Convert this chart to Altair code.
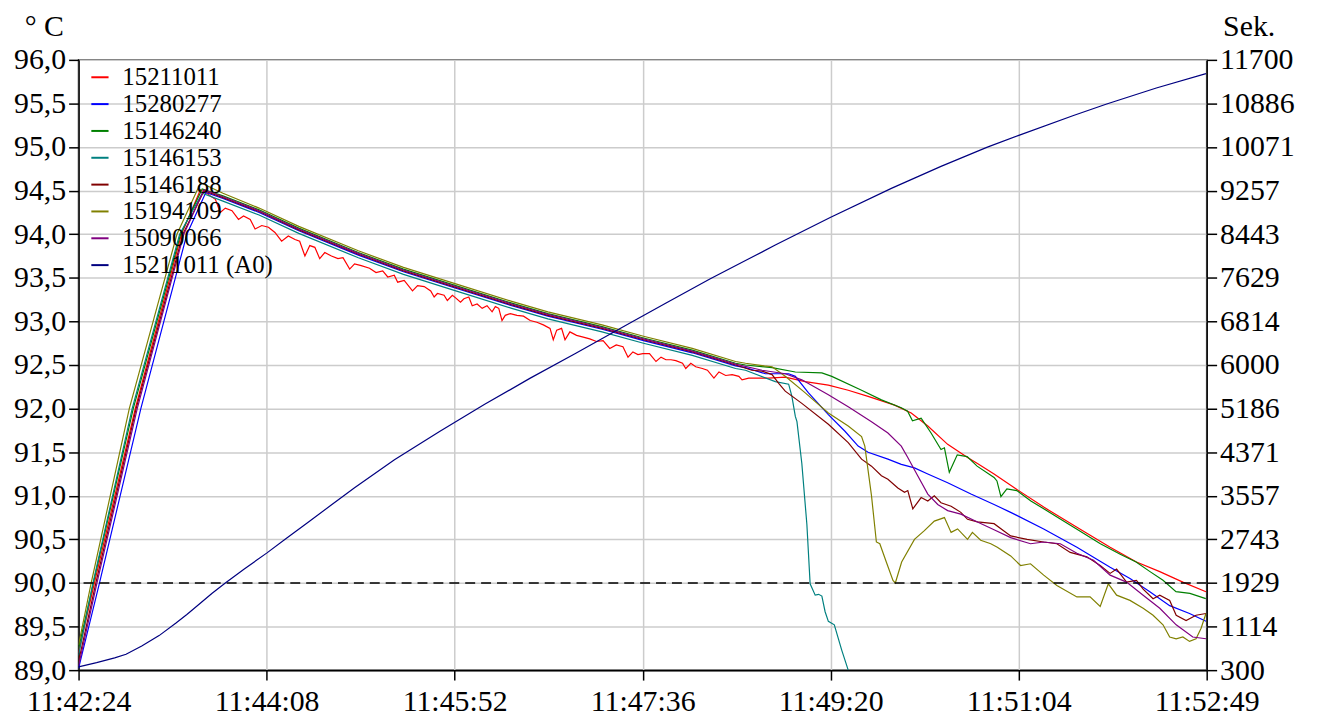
import altair as alt
import pandas as pd

FONT = "Liberation Serif"

SERIES = ["15211011", "15280277", "15146240", "15146153", "15146188",
          "15194109", "15090066", "15211011 (A0)"]
COLORS = ["#ff0000", "#0000ff", "#008000", "#008080", "#800000",
          "#808000", "#800080", "#000080"]

X_TICK_SECONDS = [0, 104.1667, 208.3333, 312.5, 416.6667, 520.8333, 625]
X_TICK_LABELS = ["11:42:24", "11:44:08", "11:45:52", "11:47:36",
                 "11:49:20", "11:51:04", "11:52:49"]
LEFT_TICKS = [89.0, 89.5, 90.0, 90.5, 91.0, 91.5, 92.0, 92.5, 93.0, 93.5,
              94.0, 94.5, 95.0, 95.5, 96.0]
RIGHT_TICKS = [300, 1114.2857, 1928.5714, 2742.8571, 3557.1429, 4371.4286,
               5185.7143, 6000, 6814.2857, 7628.5714, 8442.8571, 9257.1429,
               10071.4286, 10885.7143, 11700]
LIMIT_LINE = [90.0]

# 15211011 (red)
red_t = [0, 8.8, 31.4, 57.0, 67.5, 70.3, 73.0, 75.8, 78.5, 81.3, 85.0, 88.6,
         91.4, 95.1, 97.8, 101.5, 105.2, 108.8, 112.5, 116.2, 119.9, 122.5,
         125.4, 128.1, 130.9, 133.6, 136.4, 140.1, 143.7, 146.5, 150.2, 152.9,
         156.6, 161.2, 164.8, 168.5, 171.3, 174.9, 176.8, 180.4, 185.0, 187.8,
         191.5, 195.1, 197.0, 198.8, 202.5, 204.3, 207.1, 208.9, 211.6, 213.5,
         216.2, 218.1, 220.8, 223.6, 226.3, 229.1, 230.9, 232.8, 234.6, 236.4,
         239.2, 242.9, 246.5, 250.2, 253.9, 257.5, 261.2, 263.0, 264.9, 267.6,
         269.5, 272.2, 275.9, 279.6, 283.2, 286.9, 290.6, 294.3, 297.9, 301.6,
         304.4, 307.1, 309.9, 312.6, 316.3, 319.9, 322.7, 325.4, 328.2, 330.9,
         334.6, 336.4, 339.2, 341.9, 345.6, 348.4, 352.0, 354.8, 358.5, 362.1,
         365.8, 367.6, 371.3, 382.3, 391.5, 402.6, 415.4, 426.4, 437.4, 452.1,
         461.3, 470.5, 481.5, 492.5, 498.0, 507.2, 516.4, 534.7, 553.1, 571.5,
         586.1, 599.0, 611.8, 624.6]
red_v = [89.20, 90.00, 92.00, 94.00, 94.51, 94.48, 94.44, 94.40, 94.25, 94.30,
         94.27, 94.17, 94.21, 94.17, 94.06, 94.10, 94.08, 94.02, 93.92, 93.98,
         93.94, 93.92, 93.75, 93.87, 93.85, 93.72, 93.79, 93.75, 93.72, 93.73,
         93.60, 93.66, 93.64, 93.61, 93.56, 93.58, 93.51, 93.53, 93.45, 93.47,
         93.35, 93.41, 93.40, 93.35, 93.28, 93.32, 93.30, 93.24, 93.30, 93.27,
         93.22, 93.26, 93.28, 93.18, 93.20, 93.15, 93.18, 93.11, 93.17, 93.15,
         93.01, 93.07, 93.09, 93.07, 93.06, 93.01, 92.99, 92.96, 92.92, 92.79,
         92.90, 92.92, 92.79, 92.88, 92.84, 92.82, 92.80, 92.77, 92.78, 92.69,
         92.73, 92.71, 92.59, 92.65, 92.62, 92.63, 92.63, 92.54, 92.59, 92.56,
         92.56, 92.55, 92.52, 92.46, 92.52, 92.48, 92.46, 92.44, 92.35, 92.42,
         92.38, 92.39, 92.37, 92.33, 92.35, 92.35, 92.36, 92.31, 92.27, 92.21,
         92.14, 92.04, 91.95, 91.80, 91.59, 91.44, 91.37, 91.25, 91.12, 90.87,
         90.64, 90.41, 90.24, 90.13, 90.01, 89.90]

# 15280277 (blue)
blue_t = [0, 11.6, 34.5, 60.0, 70.5, 80, 100, 122, 155, 180, 209, 240, 260,
          290, 313, 340, 364, 369.5, 380.5, 393.4, 397.1, 404.4, 415.4, 424.6,
          431.9, 437.4, 448.4, 455.8, 463.1, 470.5, 481.5, 494.4, 507.2, 516.4,
          534.7, 553.1, 571.5, 582.5, 593.5, 604.5, 615.5, 624.6]
blue_v = [89.02, 90.00, 92.00, 94.00, 94.48, 94.41, 94.25, 94.04, 93.76,
          93.57, 93.38, 93.18, 93.06, 92.91, 92.78, 92.64, 92.49, 92.47, 92.40,
          92.40, 92.37, 92.18, 91.93, 91.74, 91.57, 91.50, 91.42, 91.36, 91.32,
          91.25, 91.15, 91.02, 90.90, 90.81, 90.62, 90.41, 90.18, 90.05, 89.90,
          89.74, 89.65, 89.56]

# 15146240 (green)
green_t = [0, 8.2, 30.3, 56.5, 68.5, 80, 100, 122, 155, 180, 209, 240, 260,
           290, 313, 340, 364, 369.5, 384.2, 397.1, 411.8, 417.3, 433.8, 444.8,
           455.8, 459.3, 462.0, 466.8, 472.3, 477.8, 479.7, 482.4, 486.8, 492.3,
           497.8, 507.2, 508.8, 511.0, 514.3, 519.8, 527.6, 534.7, 544.1, 552.9,
           566.1, 577.1, 585.9, 593.6, 600.8, 608.0, 615.7, 624.5]
green_v = [89.25, 90.00, 92.00, 94.00, 94.52, 94.44, 94.28, 94.07, 93.79,
           93.60, 93.41, 93.21, 93.09, 92.94, 92.81, 92.67, 92.52, 92.50, 92.47,
           92.42, 92.41, 92.37, 92.21, 92.10, 92.01, 91.97, 91.86, 91.89, 91.72,
           91.53, 91.55, 91.27, 91.47, 91.45, 91.34, 91.21, 91.17, 90.99, 91.08,
           91.06, 90.94, 90.85, 90.73, 90.62, 90.45, 90.33, 90.24, 90.13, 90.03,
           89.90, 89.88, 89.82]

# 15146153 (teal)
teal_t = [0, 8.0, 29.7, 56.0, 68.5, 80, 100, 122, 155, 180, 209, 240, 260,
          290, 313, 340, 364, 369.5, 386.0, 393.4, 395.2, 397.1, 398.0, 400.7,
          403.5, 405.3, 408.1, 410.0, 411.8, 413.6, 415.4, 418.7, 422.8, 426.4]
teal_v = [89.17, 90.00, 92.00, 94.00, 94.47, 94.38, 94.22, 94.01, 93.73,
          93.54, 93.35, 93.15, 93.03, 92.88, 92.75, 92.61, 92.46, 92.44, 92.31,
          92.28, 92.14, 91.91, 91.85, 91.37, 90.67, 89.99, 89.86, 89.87, 89.85,
          89.67, 89.56, 89.52, 89.23, 89.00]

# 15146188 (maroon)
maroon_t = [0, 9.6, 31.9, 57.8, 69.5, 80, 100, 122, 155, 180, 209, 240, 260,
            290, 313, 340, 364, 373.0, 378.7, 384.2, 387.9, 391.5, 400.7, 415.4,
            426.4, 433.8, 439.3, 444.8, 448.4, 453.9, 457.6, 459.4, 462.2, 466.8,
            470.5, 474.1, 477.8, 483.4, 488.8, 492.5, 498.0, 507.2, 516.4, 525.5,
            534.7, 542.0, 549.4, 558.6, 566.0, 571.5, 575.1, 580.6, 586.1, 589.8,
            595.3, 599.0, 604.5, 608.1, 613.6, 619.1, 624.6]
maroon_v = [89.10, 90.00, 92.00, 94.00, 94.50, 94.42, 94.26, 94.05, 93.77,
            93.58, 93.39, 93.19, 93.07, 92.92, 92.79, 92.65, 92.50, 92.44, 92.43,
            92.39, 92.29, 92.20, 92.06, 91.82, 91.61, 91.42, 91.34, 91.23, 91.19,
            91.09, 91.04, 91.06, 90.85, 90.98, 90.94, 91.00, 90.92, 90.88, 90.81,
            90.73, 90.70, 90.68, 90.54, 90.50, 90.47, 90.45, 90.35, 90.30, 90.20,
            90.11, 90.16, 90.01, 90.03, 89.93, 89.82, 89.86, 89.80, 89.63, 89.57,
            89.63, 89.65]

# 15194109 (olive)
olive_t = [0, 7.0, 28.1, 54.5, 67.6, 80, 100, 122, 155, 180, 209, 240, 260,
           290, 313, 340, 364, 369.5, 380.0, 384.2, 391.5, 402.6, 415.4, 426.4,
           433.8, 435.6, 439.3, 442.0, 443.9, 447.5, 451.2, 452.5, 456.0, 463.1,
           468.6, 474.1, 479.7, 483.4, 487.0, 492.5, 495.2, 499.8, 505.4, 509.0,
           516.4, 521.9, 527.4, 534.7, 542.0, 553.1, 560.4, 566.0, 570.5, 575.1,
           582.5, 589.8, 595.3, 600.8, 604.5, 608.1, 611.8, 615.5, 619.1, 621.9,
           624.6]
olive_v = [89.29, 90.00, 92.00, 94.00, 94.59, 94.47, 94.30, 94.09, 93.81,
           93.62, 93.43, 93.23, 93.11, 92.96, 92.83, 92.69, 92.54, 92.52, 92.49,
           92.48, 92.37, 92.18, 91.95, 91.80, 91.68, 91.57, 91.00, 90.47, 90.45,
           90.24, 90.03, 90.00, 90.24, 90.50, 90.60, 90.71, 90.75, 90.58, 90.62,
           90.50, 90.58, 90.49, 90.45, 90.41, 90.31, 90.20, 90.22, 90.09, 89.97,
           89.84, 89.84, 89.73, 89.99, 89.86, 89.80, 89.71, 89.63, 89.52, 89.38,
           89.36, 89.38, 89.33, 89.36, 89.48, 89.65]

# 15090066 (purple)
purple_t = [0, 10.2, 32.5, 58.3, 69.5, 80, 100, 122, 155, 180, 209, 240, 260,
            290, 313, 340, 364, 378.7, 391.5, 400.7, 415.4, 426.4, 439.3, 448.4,
            455.8, 459.4, 464.9, 470.5, 476.0, 481.5, 488.8, 498.0, 507.2, 516.4,
            527.4, 534.7, 543.9, 553.1, 562.3, 571.5, 580.6, 589.8, 599.0, 608.1,
            617.3, 624.6]
purple_v = [89.05, 90.00, 92.00, 94.00, 94.51, 94.43, 94.27, 94.06, 93.78,
            93.59, 93.40, 93.20, 93.08, 92.93, 92.80, 92.66, 92.51, 92.44, 92.40,
            92.33, 92.16, 92.02, 91.85, 91.72, 91.57, 91.44, 91.23, 91.02, 90.90,
            90.83, 90.79, 90.70, 90.61, 90.52, 90.45, 90.47, 90.45, 90.34, 90.26,
            90.09, 90.01, 89.86, 89.71, 89.52, 89.38, 89.36]

# 15211011 (A0), seconds, right axis
a0_t = [0, 10, 20, 26.3, 35, 44.6, 53.8, 60, 66.6, 74, 81.3, 92, 104.2, 115,
        127.2, 140, 152.9, 175, 200, 225, 250, 275, 307, 325.5, 350, 369.5,
        386, 416.7, 450.3, 477.8, 503.5, 520.9, 551.2, 569.6, 597.1, 624.6]
a0_v = [360, 440, 530, 597, 750, 945, 1175, 1340, 1526, 1735, 1929, 2195,
        2486, 2760, 3061, 3385, 3706, 4230, 4760, 5265, 5750, 6210, 6814, 7160,
        7610, 7951, 8240, 8760, 9300, 9710, 10070, 10290, 10660, 10875, 11175,
        11444]

temp_series = [
    (SERIES[0], red_t, red_v),
    (SERIES[1], blue_t, blue_v),
    (SERIES[2], green_t, green_v),
    (SERIES[3], teal_t, teal_v),
    (SERIES[4], maroon_t, maroon_v),
    (SERIES[5], olive_t, olive_v),
    (SERIES[6], purple_t, purple_v),
]
rows = []
for name, ts, vs in temp_series:
    for t, v in zip(ts, vs):
        rows.append({"t": t, "v": v, "series": name})
temp_df = pd.DataFrame(rows)
a0_df = pd.DataFrame({"t": a0_t, "v": a0_v, "series": SERIES[7]})
limit_df = pd.DataFrame({"v": LIMIT_LINE})

# x label expression built from the tick arrays
parts = []
for i in range(len(X_TICK_SECONDS) - 1):
    mid = (X_TICK_SECONDS[i] + X_TICK_SECONDS[i + 1]) / 2
    parts.append(f"datum.value < {mid:.3f} ? '{X_TICK_LABELS[i]}' : ")
x_label_expr = "".join(parts) + f"'{X_TICK_LABELS[-1]}'"

x_enc = alt.X(
    "t:Q",
    scale=alt.Scale(domain=[0, 625], nice=False, zero=False),
    axis=alt.Axis(values=X_TICK_SECONDS, labelExpr=x_label_expr, title=None,
                  grid=True, labelFlush=False, labelOverlap=False,
                  labelPadding=7, labelFont=FONT, labelFontSize=30),
)

color_enc = alt.Color(
    "series:N",
    scale=alt.Scale(domain=SERIES, range=COLORS),
    legend=alt.Legend(title=None, orient="none", legendX=9, legendY=5,
                      symbolType="stroke", symbolSize=300,
                      symbolStrokeWidth=2, labelFont=FONT, labelFontSize=25,
                      labelColor="black", labelOffset=10, rowPadding=1,
                      padding=0, labelLimit=400),
)

left_scale = alt.Scale(domain=[89, 96], nice=False, zero=False)
left_axis = alt.Axis(
    values=LEFT_TICKS, orient="left", grid=True, labelFlush=False,
    labelOverlap=False, labelFont=FONT, labelFontSize=30,
    labelExpr="replace(format(datum.value, '.1f'), '.', ',')",
    title="° C", titleAngle=0, titleX=-35, titleY=-25, titleAlign="center",
    titleBaseline="alphabetic", labelPadding=3,
)

temp_lines = alt.Chart(temp_df).mark_line(strokeWidth=1.2, clip=True).encode(
    x=x_enc,
    y=alt.Y("v:Q", scale=left_scale, axis=left_axis),
    color=color_enc,
)

limit_rule = alt.Chart(limit_df).mark_rule(
    color="black", strokeWidth=1.5, strokeDash=[10, 6]
).encode(y=alt.Y("v:Q", scale=left_scale))

right_axis = alt.Axis(
    values=RIGHT_TICKS, orient="right", grid=False, labelFlush=False,
    labelOverlap=False, labelExpr="format(datum.value, '.0f')",
    labelFont=FONT, labelFontSize=30,
    title="Sek.", titleAngle=0, titleX=16, titleY=-25, titleAlign="left",
    titleBaseline="alphabetic", labelPadding=3,
)

a0_line = alt.Chart(a0_df).mark_line(strokeWidth=1.2, clip=True).encode(
    x=x_enc,
    y=alt.Y("v:Q", scale=alt.Scale(domain=[300, 11700], nice=False,
                                     zero=False), axis=right_axis),
    color=color_enc,
)

left_layer = alt.layer(temp_lines, limit_rule)

chart = alt.layer(left_layer, a0_line).resolve_scale(
    y="independent"
).properties(
    width=1135,
    height=614,
    padding={"left": 71, "top": 50, "right": 113, "bottom": 53},
    autosize=alt.AutoSizeParams(type="none"),
    background="white",
).configure(
    font=FONT
).configure_view(
    stroke="black", strokeWidth=1.5
).configure_axis(
    labelFont=FONT, labelFontSize=30, labelColor="black",
    titleFont=FONT, titleFontSize=30, titleFontWeight="normal",
    titleColor="black", domainColor="black", domainWidth=1.5,
    tickColor="black", tickWidth=1.5, tickSize=10,
    gridColor="#cccccc", gridWidth=1.5,
).configure_legend(
    labelFont=FONT
)

chart.save("out.html", embed_options={"renderer": "svg", "actions": False})
